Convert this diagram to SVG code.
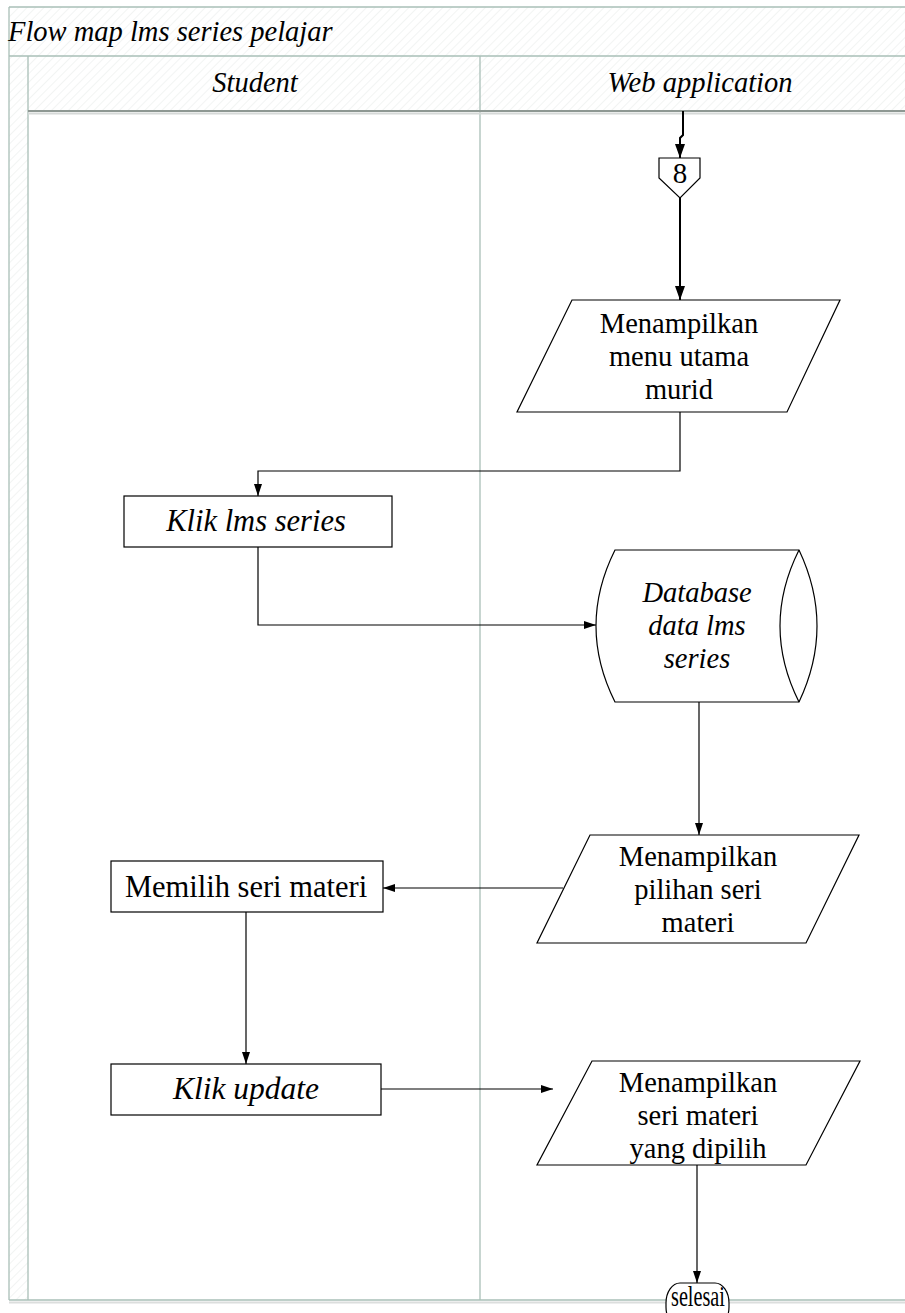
<svg xmlns="http://www.w3.org/2000/svg" width="905" height="1313" viewBox="0 0 905 1313">
  <defs>
    <pattern id="hatch" width="6" height="6" patternUnits="userSpaceOnUse" patternTransform="rotate(45)">
      <rect width="6" height="6" fill="#ffffff"/>
      <line x1="0" y1="0" x2="0" y2="6" stroke="#eef1ef" stroke-width="1.5"/>
    </pattern>
    <marker id="arrow" viewBox="0 0 12 8" refX="12" refY="4" markerWidth="12" markerHeight="8" markerUnits="userSpaceOnUse" orient="auto">
      <path d="M0,0 L12,4 L0,8 Z" fill="#000"/>
    </marker>
    <marker id="arrowBig" viewBox="0 0 14 10" refX="14" refY="5" markerWidth="14" markerHeight="10" markerUnits="userSpaceOnUse" orient="auto">
      <path d="M0,0 L14,5 L0,10 Z" fill="#000"/>
    </marker>
  </defs>
  <style>
    .reg { font-family: "Liberation Serif", "Times New Roman", serif; font-size: 28.5px; fill: #000; text-anchor: middle; }
    .ital { font-family: "Liberation Serif", "Times New Roman", serif; font-size: 28.5px; font-style: italic; fill: #000; text-anchor: middle; }
    .shape { fill: #fff; stroke: #000; stroke-width: 1.2; }
    .edge { fill: none; stroke: #000; stroke-width: 1.2; marker-end: url(#arrow); }
    .edgeBold { fill: none; stroke: #000; stroke-width: 2; marker-end: url(#arrowBig); }
    .lane { fill: none; stroke: #a9bfb7; stroke-width: 1.3; }
  </style>

  <!-- swimlane frame -->
  <g id="frame">
    <rect x="0" y="0" width="905" height="1313" fill="#fff"/>
    <rect x="9" y="7" width="900" height="49" fill="url(#hatch)"/>
    <rect x="28" y="56" width="880" height="55" fill="url(#hatch)"/>
    <rect x="9" y="56" width="19" height="1244" fill="url(#hatch)"/>
    <line class="lane" x1="9" y1="7" x2="905" y2="7"/>
    <line class="lane" x1="9" y1="7" x2="9" y2="1300"/>
    <line class="lane" x1="9" y1="56" x2="905" y2="56"/>
    <line class="lane" x1="28" y1="56" x2="28" y2="1300"/>
    <line class="lane" x1="480" y1="56" x2="480" y2="1300"/>
    <line x1="28" y1="111" x2="905" y2="111" stroke="#8e9893" stroke-width="2"/>
    <line x1="28" y1="113.5" x2="905" y2="113.5" stroke="#d6d9d8" stroke-width="2"/>
    <line x1="9" y1="1300" x2="905" y2="1300" stroke="#a9bfb7" stroke-width="1.5"/>
    <line x1="9" y1="1302.5" x2="905" y2="1302.5" stroke="#dcdedd" stroke-width="2"/>
    <text x="8" y="41" class="ital" style="text-anchor:start">Flow map lms series pelajar</text>
    <text x="255" y="92" class="ital">Student</text>
    <text x="700" y="92" class="ital">Web application</text>
  </g>

  <!-- connectors -->
  <g id="connectors">
    <path class="edgeBold" d="M683,111 V135 L680,138 V158"/>
    <path class="edgeBold" d="M680,198 V300"/>
    <path class="edge" d="M680,412 V471 H258 V496"/>
    <path class="edge" d="M258,547 V625 H596"/>
    <path class="edge" d="M699,702 V835"/>
    <path class="edge" d="M563,888 H383"/>
    <path class="edge" d="M246,912 V1064"/>
    <path class="edge" d="M381,1089 H553"/>
    <path class="edge" d="M697,1165 V1283"/>
  </g>

  <g id="offpage-8">
    <polygon class="shape" points="659,158 700,158 700,178 680,198 659,178"/>
    <text x="680" y="183" class="reg" style="font-size:29px">8</text>
  </g>

  <g id="menu-utama">
    <polygon class="shape" points="572,300 840,300 787,412 517,412"/>
    <text x="679" y="333" class="reg">Menampilkan</text>
    <text x="679" y="366" class="reg">menu utama</text>
    <text x="679" y="399" class="reg">murid</text>
  </g>

  <g id="klik-lms-series">
    <rect class="shape" x="124" y="496" width="268" height="51"/>
    <text x="256" y="531" class="ital" style="font-size:30.5px">Klik lms series</text>
  </g>

  <g id="database">
    <path class="shape" d="M615,550 H799 Q835,626 799,702 H615 Q577,626 615,550 Z"/>
    <path class="shape" style="fill:none" d="M799,550 Q761,626 799,702"/>
    <text x="697" y="602" class="ital">Database</text>
    <text x="697" y="635" class="ital">data lms</text>
    <text x="697" y="668" class="ital">series</text>
  </g>

  <g id="pilihan-seri">
    <polygon class="shape" points="590,835 859,835 806,943 537,943"/>
    <text x="698" y="866" class="reg">Menampilkan</text>
    <text x="698" y="899" class="reg">pilihan seri</text>
    <text x="698" y="932" class="reg">materi</text>
  </g>

  <g id="memilih-seri">
    <rect class="shape" x="111" y="861" width="272" height="51"/>
    <text x="246" y="897" class="reg" style="font-size:30.5px">Memilih seri materi</text>
  </g>

  <g id="klik-update">
    <rect class="shape" x="111" y="1064" width="270" height="51"/>
    <text x="246" y="1099" class="ital" style="font-size:31.5px">Klik update</text>
  </g>

  <g id="seri-dipilih">
    <polygon class="shape" points="592,1061 860,1061 806,1165 537,1165"/>
    <text x="698" y="1092" class="reg">Menampilkan</text>
    <text x="698" y="1125" class="reg">seri materi</text>
    <text x="698" y="1158" class="reg">yang dipilih</text>
  </g>

  <g id="selesai">
    <rect class="shape" x="666" y="1283" width="63" height="44" rx="14" ry="20"/>
    <text x="698" y="1306" class="reg" style="font-size:29px" textLength="54" lengthAdjust="spacingAndGlyphs">selesai</text>
  </g>
</svg>
